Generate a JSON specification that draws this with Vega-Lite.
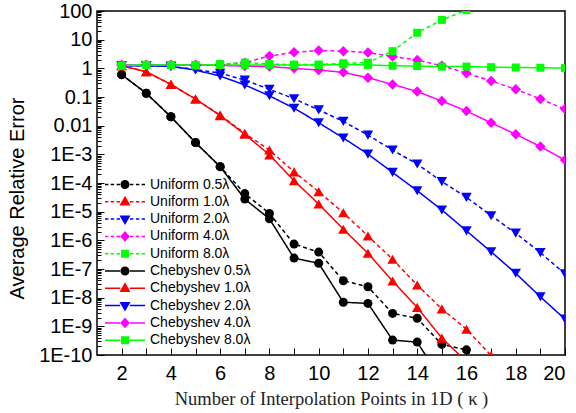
{
  "$schema": "https://vega.github.io/schema/vega-lite/v6.json",
  "width": 468,
  "height": 344,
  "autosize": {"type": "none"},
  "padding": {"left": 97, "top": 11, "right": 11, "bottom": 58},
  "background": "white",
  "data": {"values": [
    {"series":"Uniform 0.5λ","k":2,"err":0.603},{"series":"Uniform 0.5λ","k":3,"err":0.135},{"series":"Uniform 0.5λ","k":4,"err":0.0204},{"series":"Uniform 0.5λ","k":5,"err":0.00257},{"series":"Uniform 0.5λ","k":6,"err":3.72e-4},{"series":"Uniform 0.5λ","k":7,"err":4.27e-5},{"series":"Uniform 0.5λ","k":8,"err":8.71e-6},{"series":"Uniform 0.5λ","k":9,"err":7.41e-7},{"series":"Uniform 0.5λ","k":10,"err":3.89e-7},{"series":"Uniform 0.5λ","k":11,"err":3.89e-8},{"series":"Uniform 0.5λ","k":12,"err":2.40e-8},{"series":"Uniform 0.5λ","k":13,"err":2.82e-9},{"series":"Uniform 0.5λ","k":14,"err":1.91e-9},{"series":"Uniform 0.5λ","k":15,"err":2.34e-10},{"series":"Uniform 0.5λ","k":16,"err":1.51e-10},{"series":"Uniform 0.5λ","k":17,"err":1.26e-11},
    {"series":"Chebyshev 0.5λ","k":2,"err":0.603},{"series":"Chebyshev 0.5λ","k":3,"err":0.135},{"series":"Chebyshev 0.5λ","k":4,"err":0.0204},{"series":"Chebyshev 0.5λ","k":5,"err":0.00257},{"series":"Chebyshev 0.5λ","k":6,"err":3.72e-4},{"series":"Chebyshev 0.5λ","k":7,"err":2.75e-5},{"series":"Chebyshev 0.5λ","k":8,"err":5.62e-6},{"series":"Chebyshev 0.5λ","k":9,"err":2.40e-7},{"series":"Chebyshev 0.5λ","k":10,"err":1.58e-7},{"series":"Chebyshev 0.5λ","k":11,"err":6.92e-9},{"series":"Chebyshev 0.5λ","k":12,"err":6.31e-9},{"series":"Chebyshev 0.5λ","k":13,"err":3.31e-10},{"series":"Chebyshev 0.5λ","k":14,"err":2.82e-10},{"series":"Chebyshev 0.5λ","k":15,"err":1.26e-11},
    {"series":"Uniform 1.0λ","k":2,"err":1.23},{"series":"Uniform 1.0λ","k":3,"err":0.759},{"series":"Uniform 1.0λ","k":4,"err":0.275},{"series":"Uniform 1.0λ","k":5,"err":0.0851},{"series":"Uniform 1.0λ","k":6,"err":0.0234},{"series":"Uniform 1.0λ","k":7,"err":0.00537},{"series":"Uniform 1.0λ","k":8,"err":1.41e-3},{"series":"Uniform 1.0λ","k":9,"err":2.45e-4},{"series":"Uniform 1.0λ","k":10,"err":5.01e-5},{"series":"Uniform 1.0λ","k":11,"err":9.12e-6},{"series":"Uniform 1.0λ","k":12,"err":1.41e-6},{"series":"Uniform 1.0λ","k":13,"err":2.19e-7},{"series":"Uniform 1.0λ","k":14,"err":2.75e-8},{"series":"Uniform 1.0λ","k":15,"err":4.07e-9},{"series":"Uniform 1.0λ","k":16,"err":7.94e-10},{"series":"Uniform 1.0λ","k":17,"err":9.55e-11},{"series":"Uniform 1.0λ","k":18,"err":1.26e-11},
    {"series":"Chebyshev 1.0λ","k":2,"err":1.23},{"series":"Chebyshev 1.0λ","k":3,"err":0.759},{"series":"Chebyshev 1.0λ","k":4,"err":0.275},{"series":"Chebyshev 1.0λ","k":5,"err":0.0851},{"series":"Chebyshev 1.0λ","k":6,"err":0.0224},{"series":"Chebyshev 1.0λ","k":7,"err":0.00501},{"series":"Chebyshev 1.0λ","k":8,"err":9.55e-4},{"series":"Chebyshev 1.0λ","k":9,"err":1.20e-4},{"series":"Chebyshev 1.0λ","k":10,"err":1.86e-5},{"series":"Chebyshev 1.0λ","k":11,"err":2.45e-6},{"series":"Chebyshev 1.0λ","k":12,"err":3.55e-7},{"series":"Chebyshev 1.0λ","k":13,"err":3.80e-8},{"series":"Chebyshev 1.0λ","k":14,"err":4.57e-9},{"series":"Chebyshev 1.0λ","k":15,"err":3.89e-10},{"series":"Chebyshev 1.0λ","k":16,"err":5.89e-11},
    {"series":"Uniform 2.0λ","k":2,"err":1.23},{"series":"Uniform 2.0λ","k":3,"err":1.23},{"series":"Uniform 2.0λ","k":4,"err":1.17},{"series":"Uniform 2.0λ","k":5,"err":0.912},{"series":"Uniform 2.0λ","k":6,"err":0.676},{"series":"Uniform 2.0λ","k":7,"err":0.389},{"series":"Uniform 2.0λ","k":8,"err":0.186},{"series":"Uniform 2.0λ","k":9,"err":0.0871},{"series":"Uniform 2.0λ","k":10,"err":0.0355},{"series":"Uniform 2.0λ","k":11,"err":0.0141},{"series":"Uniform 2.0λ","k":12,"err":0.00468},{"series":"Uniform 2.0λ","k":13,"err":0.00141},{"series":"Uniform 2.0λ","k":14,"err":4.57e-4},{"series":"Uniform 2.0λ","k":15,"err":1.12e-4},{"series":"Uniform 2.0λ","k":16,"err":3.16e-5},{"series":"Uniform 2.0λ","k":17,"err":7.24e-6},{"series":"Uniform 2.0λ","k":18,"err":1.78e-6},{"series":"Uniform 2.0λ","k":19,"err":3.72e-7},{"series":"Uniform 2.0λ","k":20,"err":6.76e-8},
    {"series":"Chebyshev 2.0λ","k":2,"err":1.23},{"series":"Chebyshev 2.0λ","k":3,"err":1.23},{"series":"Chebyshev 2.0λ","k":4,"err":1.17},{"series":"Chebyshev 2.0λ","k":5,"err":0.871},{"series":"Chebyshev 2.0λ","k":6,"err":0.537},{"series":"Chebyshev 2.0λ","k":7,"err":0.263},{"series":"Chebyshev 2.0λ","k":8,"err":0.110},{"series":"Chebyshev 2.0λ","k":9,"err":0.0407},{"series":"Chebyshev 2.0λ","k":10,"err":0.0126},{"series":"Chebyshev 2.0λ","k":11,"err":0.00372},{"series":"Chebyshev 2.0λ","k":12,"err":0.00102},{"series":"Chebyshev 2.0λ","k":13,"err":2.34e-4},{"series":"Chebyshev 2.0λ","k":14,"err":5.37e-5},{"series":"Chebyshev 2.0λ","k":15,"err":1.15e-5},{"series":"Chebyshev 2.0λ","k":16,"err":2.14e-6},{"series":"Chebyshev 2.0λ","k":17,"err":3.98e-7},{"series":"Chebyshev 2.0λ","k":18,"err":7.08e-8},{"series":"Chebyshev 2.0λ","k":19,"err":1.07e-8},{"series":"Chebyshev 2.0λ","k":20,"err":1.78e-9},
    {"series":"Uniform 4.0λ","k":2,"err":1.32},{"series":"Uniform 4.0λ","k":3,"err":1.32},{"series":"Uniform 4.0λ","k":4,"err":1.32},{"series":"Uniform 4.0λ","k":5,"err":1.32},{"series":"Uniform 4.0λ","k":6,"err":1.3},{"series":"Uniform 4.0λ","k":7,"err":1.58},{"series":"Uniform 4.0λ","k":8,"err":2.69},{"series":"Uniform 4.0λ","k":9,"err":3.63},{"series":"Uniform 4.0λ","k":10,"err":4.17},{"series":"Uniform 4.0λ","k":11,"err":3.98},{"series":"Uniform 4.0λ","k":12,"err":3.55},{"series":"Uniform 4.0λ","k":13,"err":2.57},{"series":"Uniform 4.0λ","k":14,"err":1.95},{"series":"Uniform 4.0λ","k":15,"err":1.23},{"series":"Uniform 4.0λ","k":16,"err":0.676},{"series":"Uniform 4.0λ","k":17,"err":0.363},{"series":"Uniform 4.0λ","k":18,"err":0.186},{"series":"Uniform 4.0λ","k":19,"err":0.0851},{"series":"Uniform 4.0λ","k":20,"err":0.038},
    {"series":"Chebyshev 4.0λ","k":2,"err":1.32},{"series":"Chebyshev 4.0λ","k":3,"err":1.32},{"series":"Chebyshev 4.0λ","k":4,"err":1.32},{"series":"Chebyshev 4.0λ","k":5,"err":1.32},{"series":"Chebyshev 4.0λ","k":6,"err":1.26},{"series":"Chebyshev 4.0λ","k":7,"err":1.2},{"series":"Chebyshev 4.0λ","k":8,"err":1.15},{"series":"Chebyshev 4.0λ","k":9,"err":1.0},{"series":"Chebyshev 4.0λ","k":10,"err":0.871},{"series":"Chebyshev 4.0λ","k":11,"err":0.724},{"series":"Chebyshev 4.0λ","k":12,"err":0.468},{"series":"Chebyshev 4.0λ","k":13,"err":0.275},{"series":"Chebyshev 4.0λ","k":14,"err":0.155},{"series":"Chebyshev 4.0λ","k":15,"err":0.0724},{"series":"Chebyshev 4.0λ","k":16,"err":0.0324},{"series":"Chebyshev 4.0λ","k":17,"err":0.0126},{"series":"Chebyshev 4.0λ","k":18,"err":0.00501},{"series":"Chebyshev 4.0λ","k":19,"err":0.00186},{"series":"Chebyshev 4.0λ","k":20,"err":6.31e-4},
    {"series":"Uniform 8.0λ","k":2,"err":1.23},{"series":"Uniform 8.0λ","k":3,"err":1.32},{"series":"Uniform 8.0λ","k":4,"err":1.32},{"series":"Uniform 8.0λ","k":5,"err":1.26},{"series":"Uniform 8.0λ","k":6,"err":1.41},{"series":"Uniform 8.0λ","k":7,"err":1.58},{"series":"Uniform 8.0λ","k":8,"err":1.41},{"series":"Uniform 8.0λ","k":9,"err":1.35},{"series":"Uniform 8.0λ","k":10,"err":1.35},{"series":"Uniform 8.0λ","k":11,"err":1.51},{"series":"Uniform 8.0λ","k":12,"err":1.58},{"series":"Uniform 8.0λ","k":13,"err":3.98},{"series":"Uniform 8.0λ","k":14,"err":17.4},{"series":"Uniform 8.0λ","k":15,"err":49},{"series":"Uniform 8.0λ","k":16,"err":107},{"series":"Uniform 8.0λ","k":17,"err":224},
    {"series":"Chebyshev 8.0λ","k":2,"err":1.26},{"series":"Chebyshev 8.0λ","k":3,"err":1.32},{"series":"Chebyshev 8.0λ","k":4,"err":1.32},{"series":"Chebyshev 8.0λ","k":5,"err":1.32},{"series":"Chebyshev 8.0λ","k":6,"err":1.32},{"series":"Chebyshev 8.0λ","k":7,"err":1.32},{"series":"Chebyshev 8.0λ","k":8,"err":1.32},{"series":"Chebyshev 8.0λ","k":9,"err":1.32},{"series":"Chebyshev 8.0λ","k":10,"err":1.32},{"series":"Chebyshev 8.0λ","k":11,"err":1.38},{"series":"Chebyshev 8.0λ","k":12,"err":1.32},{"series":"Chebyshev 8.0λ","k":13,"err":1.23},{"series":"Chebyshev 8.0λ","k":14,"err":1.2},{"series":"Chebyshev 8.0λ","k":15,"err":1.15},{"series":"Chebyshev 8.0λ","k":16,"err":1.15},{"series":"Chebyshev 8.0λ","k":17,"err":1.1},{"series":"Chebyshev 8.0λ","k":18,"err":1.07},{"series":"Chebyshev 8.0λ","k":19,"err":1.05},{"series":"Chebyshev 8.0λ","k":20,"err":1.02}
  ]},
  "encoding": {
    "x": {"field": "k", "type": "quantitative",
      "scale": {"domain": [1, 20], "nice": false, "zero": false},
      "axis": {"title": "Number of Interpolation Points in 1D ( κ )", "values": [2,3,4,5,6,7,8,9,10,11,12,13,14,15,16,17,18,19,20],
        "labelExpr": "datum.value % 2 == 0 ? datum.label : ''", "tickSize": 7, "offset": -7, "domain": false, "labelPadding": 8,
        "titleFont": "Liberation Serif", "titleFontSize": 18.5, "titleFontWeight": "normal", "titleColor": "#222",
        "titleY": 50, "titleBaseline": "middle"}}
  },
  "layer": [
    {
      "mark": {"type": "line", "strokeWidth": 1.5, "clip": true},
      "encoding": {
        "y": {"field": "err", "type": "quantitative",
          "scale": {"type": "log", "domain": [1e-10, 100], "nice": false},
          "axis": {"title": "Average Relative Error", "orient": "left",
            "values": [1e-10,1e-9,1e-8,1e-7,1e-6,1e-5,1e-4,1e-3,0.01,0.1,1,10,100],
            "labelExpr": "datum.value >= 0.005 ? format(datum.value, '~g') : '1E-' + format(-log(datum.value)/LN10, '.0f')",
            "tickSize": 7, "offset": -7, "domain": false, "labelPadding": 5,
            "titleFont": "Liberation Sans", "titleFontSize": 20, "titleFontWeight": "normal", "titleColor": "black",
            "titleX": -87, "titleY": 187, "titleBaseline": "middle", "titleAlign": "center"}},
        "stroke": {"field": "series", "type": "nominal", "legend": null,
          "scale": {"domain": ["Uniform 0.5λ","Uniform 1.0λ","Uniform 2.0λ","Uniform 4.0λ","Uniform 8.0λ","Chebyshev 0.5λ","Chebyshev 1.0λ","Chebyshev 2.0λ","Chebyshev 4.0λ","Chebyshev 8.0λ"],
            "range": ["#000000","#ff0000","#0000ff","#ff00ff","#00ff00","#000000","#ff0000","#0000ff","#ff00ff","#00ff00"]}},
        "strokeDash": {"field": "series", "type": "nominal", "legend": null,
          "scale": {"domain": ["Uniform 0.5λ","Uniform 1.0λ","Uniform 2.0λ","Uniform 4.0λ","Uniform 8.0λ","Chebyshev 0.5λ","Chebyshev 1.0λ","Chebyshev 2.0λ","Chebyshev 4.0λ","Chebyshev 8.0λ"],
            "range": [[4,3],[4,3],[4,3],[4,3],[4,3],[1,0],[1,0],[1,0],[1,0],[1,0]]}}
      }
    },
    {
      "transform": [{"filter": {"field": "series", "oneOf": ["Uniform 0.5λ","Chebyshev 0.5λ"]}}],
      "mark": {"type": "point", "shape": "circle", "filled": true, "color": "#000000", "size": 81, "opacity": 1, "clip": true},
      "encoding": {"y": {"field": "err", "type": "quantitative", "axis": null}}
    },
    {
      "transform": [{"filter": {"field": "series", "oneOf": ["Uniform 1.0λ","Chebyshev 1.0λ"]}}],
      "mark": {"type": "point", "shape": "triangle-up", "filled": true, "color": "#ff0000", "size": 110, "opacity": 1, "clip": true},
      "encoding": {"y": {"field": "err", "type": "quantitative", "axis": null}}
    },
    {
      "transform": [{"filter": {"field": "series", "oneOf": ["Uniform 2.0λ","Chebyshev 2.0λ"]}}],
      "mark": {"type": "point", "shape": "triangle-down", "filled": true, "color": "#0000ff", "size": 110, "opacity": 1, "clip": true},
      "encoding": {"y": {"field": "err", "type": "quantitative", "axis": null}}
    },
    {
      "transform": [{"filter": {"field": "series", "oneOf": ["Uniform 4.0λ","Chebyshev 4.0λ"]}}],
      "mark": {"type": "point", "shape": "diamond", "filled": true, "color": "#ff00ff", "size": 110, "opacity": 1, "clip": true},
      "encoding": {"y": {"field": "err", "type": "quantitative", "axis": null}}
    },
    {
      "transform": [{"filter": {"field": "series", "oneOf": ["Uniform 8.0λ","Chebyshev 8.0λ"]}}],
      "mark": {"type": "point", "shape": "square", "filled": true, "color": "#00ff00", "size": 64, "opacity": 1, "clip": true},
      "encoding": {"y": {"field": "err", "type": "quantitative", "axis": null}}
    },
    {
      "transform": [{"filter": "datum.k > 100"}],
      "mark": {"type": "point", "filled": true, "strokeWidth": 1.5, "opacity": 1},
      "encoding": {
        "y": {"field": "err", "type": "quantitative",
          "axis": {"orient": "left", "title": null, "labels": false, "domain": false, "tickSize": 4, "offset": -4,
            "values": [2e-10,3e-10,4e-10,5e-10,6e-10,7e-10,8e-10,9e-10,2e-9,3e-9,4e-9,5e-9,6e-9,7e-9,8e-9,9e-9,2e-8,3e-8,4e-8,5e-8,6e-8,7e-8,8e-8,9e-8,2e-7,3e-7,4e-7,5e-7,6e-7,7e-7,8e-7,9e-7,2e-6,3e-6,4e-6,5e-6,6e-6,7e-6,8e-6,9e-6,2e-5,3e-5,4e-5,5e-5,6e-5,7e-5,8e-5,9e-5,2e-4,3e-4,4e-4,5e-4,6e-4,7e-4,8e-4,9e-4,0.002,0.003,0.004,0.005,0.006,0.007,0.008,0.009,0.02,0.03,0.04,0.05,0.06,0.07,0.08,0.09,0.2,0.3,0.4,0.5,0.6,0.7,0.8,0.9,2,3,4,5,6,7,8,9,20,30,40,50,60,70,80,90]}},
        "fill": {"field": "series", "type": "nominal", "legend": {"title": null},
          "scale": {"domain": ["Uniform 0.5λ","Uniform 1.0λ","Uniform 2.0λ","Uniform 4.0λ","Uniform 8.0λ","Chebyshev 0.5λ","Chebyshev 1.0λ","Chebyshev 2.0λ","Chebyshev 4.0λ","Chebyshev 8.0λ"],
            "range": ["#000000","#ff0000","#0000ff","#ff00ff","#00ff00","#000000","#ff0000","#0000ff","#ff00ff","#00ff00"]}},
        "shape": {"field": "series", "type": "nominal", "legend": {"title": null},
          "scale": {"domain": ["Uniform 0.5λ","Uniform 1.0λ","Uniform 2.0λ","Uniform 4.0λ","Uniform 8.0λ","Chebyshev 0.5λ","Chebyshev 1.0λ","Chebyshev 2.0λ","Chebyshev 4.0λ","Chebyshev 8.0λ"],
            "range": [
              "M-1,-0.0375H-0.83V0.0375H-1ZM-0.715,-0.0375H-0.545V0.0375H-0.715ZM-0.42,-0.0375H-0.25V0.0375H-0.42ZM0.25,-0.0375H0.42V0.0375H0.25ZM0.545,-0.0375H0.715V0.0375H0.545ZM0.83,-0.0375H1V0.0375H0.83ZM0.225,0A0.225,0.225,0,1,1,-0.225,0A0.225,0.225,0,1,1,0.225,0Z",
              "M-1,-0.0375H-0.83V0.0375H-1ZM-0.715,-0.0375H-0.545V0.0375H-0.715ZM-0.42,-0.0375H-0.25V0.0375H-0.42ZM0.25,-0.0375H0.42V0.0375H0.25ZM0.545,-0.0375H0.715V0.0375H0.545ZM0.83,-0.0375H1V0.0375H0.83ZM0,-0.3L0.275,0.18L-0.275,0.18Z",
              "M-1,-0.0375H-0.83V0.0375H-1ZM-0.715,-0.0375H-0.545V0.0375H-0.715ZM-0.42,-0.0375H-0.25V0.0375H-0.42ZM0.25,-0.0375H0.42V0.0375H0.25ZM0.545,-0.0375H0.715V0.0375H0.545ZM0.83,-0.0375H1V0.0375H0.83ZM0,0.3L0.275,-0.18L-0.275,-0.18Z",
              "M-1,-0.0375H-0.83V0.0375H-1ZM-0.715,-0.0375H-0.545V0.0375H-0.715ZM-0.42,-0.0375H-0.25V0.0375H-0.42ZM0.25,-0.0375H0.42V0.0375H0.25ZM0.545,-0.0375H0.715V0.0375H0.545ZM0.83,-0.0375H1V0.0375H0.83ZM0,-0.27L0.24,0L0,0.27L-0.24,0Z",
              "M-1,-0.0375H-0.83V0.0375H-1ZM-0.715,-0.0375H-0.545V0.0375H-0.715ZM-0.42,-0.0375H-0.25V0.0375H-0.42ZM0.25,-0.0375H0.42V0.0375H0.25ZM0.545,-0.0375H0.715V0.0375H0.545ZM0.83,-0.0375H1V0.0375H0.83ZM-0.2,-0.2H0.2V0.2H-0.2Z",
              "M-1,-0.0375H-0.24V0.0375H-1ZM0.24,-0.0375H1V0.0375H0.24ZM0.225,0A0.225,0.225,0,1,1,-0.225,0A0.225,0.225,0,1,1,0.225,0Z",
              "M-1,-0.0375H-0.24V0.0375H-1ZM0.24,-0.0375H1V0.0375H0.24ZM0,-0.3L0.275,0.18L-0.275,0.18Z",
              "M-1,-0.0375H-0.24V0.0375H-1ZM0.24,-0.0375H1V0.0375H0.24ZM0,0.3L0.275,-0.18L-0.275,-0.18Z",
              "M-1,-0.0375H-0.24V0.0375H-1ZM0.24,-0.0375H1V0.0375H0.24ZM0,-0.27L0.24,0L0,0.27L-0.24,0Z",
              "M-1,-0.0375H-0.24V0.0375H-1ZM0.24,-0.0375H1V0.0375H0.24ZM-0.2,-0.2H0.2V0.2H-0.2Z"
            ]}}
      }
    }
  ],
  "resolve": {"scale": {"stroke": "independent", "strokeDash": "independent"}, "axis": {"y": "independent"}},
  "config": {
    "view": {"stroke": "black", "strokeWidth": 1.5},
    "axis": {"grid": false, "tickColor": "black", "tickWidth": 1,
      "labelFont": "Liberation Sans", "labelFontSize": 20, "labelColor": "black"},
    "legend": {"orient": "bottom-left", "offset": 7, "padding": 0, "labelFont": "Liberation Sans", "labelFontSize": 14,
      "labelColor": "black", "symbolSize": 1600, "clipHeight": 15, "rowPadding": 2.3, "labelOffset": 4, "labelLimit": 200}
  }
}
